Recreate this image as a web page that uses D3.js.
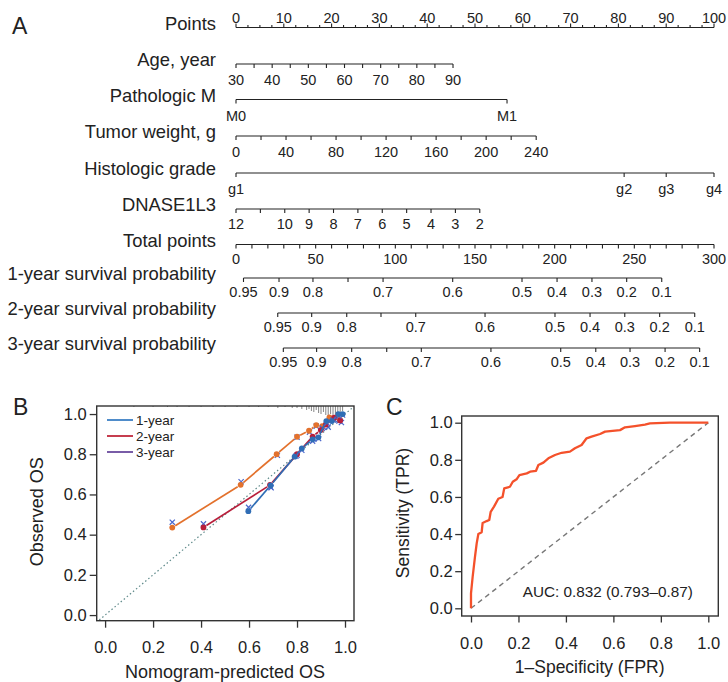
<!DOCTYPE html>
<html>
<head>
<meta charset="utf-8">
<script src="https://cdn.jsdelivr.net/npm/d3@7"></script>
<style>
body { margin: 0; background: #fff; }
text { font-family: 'Liberation Sans', Arial, sans-serif; fill: #222; }
</style>
</head>
<body>
<div id="chart"></div>
<script>
// ---- nomogram (panel A) ----
var pointsLabels = [0, 10, 20, 30, 40, 50, 60, 70, 80, 90, 100];
var ageTicks = [30, 35, 40, 45, 50, 55, 60, 65, 70, 75, 80, 85, 90];
var ageLabels = [30, 40, 50, 60, 70, 80, 90];
var agePointsMax = 45.4;
var mLevels = ['M0', 'M1'];
var mPoints = [0, 56.7];
var weightTicks = [0, 20, 40, 60, 80, 100, 120, 140, 160, 180, 200, 220, 240];
var weightLabels = [0, 40, 80, 120, 160, 200, 240];
var weightPointsMax = 62.8;
var gradeLevels = ['g1', 'g2', 'g3', 'g4'];
var gradePoints = [0, 81.2, 90, 100];
var dnaseTicks = [12, 11, 10, 9, 8, 7, 6, 5, 4, 3, 2];
var dnaseLabels = [12, 10, 9, 8, 7, 6, 5, 4, 3, 2];
var dnasePointsMax = 51.0;
var totalTicks = [0, 10, 20, 30, 40, 50, 60, 70, 80, 90, 100, 110, 120, 130, 140, 150,
                  160, 170, 180, 190, 200, 210, 220, 230, 240, 250, 260, 270, 280, 290, 300];
var totalLabels = [0, 50, 100, 150, 200, 250, 300];
var survLabels = ['0.95', '0.9', '0.8', '', '0.7', '0.6', '0.5', '0.4', '0.3', '0.2', '0.1'];
var surv1Points = [4.7, 27.0, 48.3, 70.3, 92.3, 136.0, 179.5, 201.5, 223.4, 245.2, 267.2];
var surv2Points = [26.2, 47.5, 69.5, 91.0, 112.8, 156.3, 200.2, 222.2, 244.0, 265.9, 287.9];
var surv3Points = [29.7, 50.6, 72.6, 94.6, 116.3, 160.0, 203.8, 225.8, 247.3, 269.3, 291.0];

// ---- calibration (panel B) ----
var cal3yr = [[0.28, 0.435], [0.565, 0.648], [0.715, 0.80], [0.80, 0.887], [0.85, 0.917],
              [0.88, 0.945], [0.905, 0.94], [0.935, 0.983], [0.978, 0.972]];
var cal3yrX = [[0.28, 0.462], [0.567, 0.663], [0.718, 0.795], [0.80, 0.885], [0.852, 0.91],
               [0.88, 0.94], [0.91, 0.935], [0.94, 0.97], [0.975, 0.965]];
var cal2yr = [[0.41, 0.436], [0.6875, 0.647], [0.80, 0.80], [0.865, 0.888], [0.899, 0.92],
              [0.92, 0.948], [0.955, 0.982], [0.98, 0.968]];
var cal2yrX = [[0.41, 0.454], [0.69, 0.637], [0.80, 0.795], [0.87, 0.875], [0.905, 0.93],
               [0.93, 0.935], [0.958, 0.97], [0.985, 0.958]];
var cal1yr = [[0.597, 0.517], [0.69, 0.645], [0.79, 0.788], [0.82, 0.829], [0.865, 0.874],
              [0.889, 0.884], [0.922, 0.965], [0.945, 0.965], [0.972, 1.0], [0.99, 1.0]];
var cal1yrX = [[0.598, 0.536], [0.692, 0.633], [0.795, 0.79], [0.82, 0.82], [0.865, 0.865],
               [0.89, 0.878], [0.925, 0.955], [0.95, 0.97], [0.975, 0.99], [0.99, 0.995]];
var rugValues = [0.12, 0.2, 0.26, 0.3, 0.35, 0.4, 0.45, 0.5, 0.55, 0.6, 0.64, 0.68, 0.72, 0.75,
                 0.78, 0.8, 0.82, 0.84, 0.85, 0.86, 0.87, 0.88, 0.89, 0.9, 0.91, 0.92, 0.93,
                 0.94, 0.95, 0.96, 0.97, 0.98, 0.99];
var rugCounts = [1, 1, 1, 1, 1, 1, 1, 1, 1, 1, 1, 1, 2, 1, 2, 2, 3, 4, 3, 5, 6, 4, 7, 8, 6, 9, 10,
                 8, 12, 9, 11, 8, 5];
var legendNames = ['1-year', '2-year', '3-year'];
var legendColors = ['#3b7fc4', '#c0283c', '#6a4a9e'];

// ---- ROC (panel C) ----
var rocFpr = [0, 0, 0.007, 0.017, 0.024, 0.031, 0.045, 0.049, 0.066, 0.077, 0.083, 0.097, 0.115,
              0.133, 0.140, 0.164, 0.176, 0.192, 0.204, 0.235, 0.249, 0.274, 0.284, 0.305, 0.326,
              0.354, 0.382, 0.417, 0.438, 0.466, 0.487, 0.508, 0.544, 0.565, 0.628, 0.649, 0.691,
              0.733, 0.754, 0.838, 1.0];
var rocTpr = [0, 0.08, 0.17, 0.28, 0.35, 0.40, 0.41, 0.46, 0.47, 0.476, 0.52, 0.548, 0.59,
              0.60, 0.646, 0.655, 0.682, 0.695, 0.718, 0.727, 0.736, 0.741, 0.772, 0.785, 0.808,
              0.826, 0.838, 0.844, 0.862, 0.880, 0.916, 0.925, 0.939, 0.952, 0.960, 0.975, 0.982,
              0.99, 0.996, 1.0, 1.0];
var aucText = 'AUC: 0.832 (0.793\u20130.87)';
var unitTicks = [0, 0.2, 0.4, 0.6, 0.8, 1.0];

var svg = d3.select('#chart').append('svg')
    .attr('width', 728)
    .attr('height', 682);

var ink = '#222';

// ================= Panel A =================
var ptsX = d3.scaleLinear().domain([0, 100]).range([236, 714]);
var totX = d3.scaleLinear().domain([0, 300]).range([236, 714]);

svg.append('text').attr('x', 12).attr('y', 33.5)
   .style('font-size', '23px').text('A');

function rowLabel(y, name) {
    svg.append('text')
       .attr('x', 216).attr('y', y + 2)
       .attr('text-anchor', 'end')
       .style('font-size', '18.4px')
       .text(name);
}

function drawRow(y, name, tickPx, labelPx, labelText, labelOff) {
    rowLabel(y, name);
    var g = svg.append('g');
    g.append('line')
     .attr('x1', d3.min(tickPx)).attr('x2', d3.max(tickPx))
     .attr('y1', y).attr('y2', y)
     .attr('stroke', ink).attr('stroke-width', 1.2);
    g.selectAll('.tk').data(tickPx).enter().append('line')
     .attr('x1', d => d).attr('x2', d => d)
     .attr('y1', y).attr('y2', y + 4)
     .attr('stroke', ink).attr('stroke-width', 1.1);
    g.selectAll('.lb').data(labelPx).enter().append('text')
     .attr('x', d => d).attr('y', y + (labelOff || 21))
     .attr('text-anchor', 'middle')
     .style('font-size', '14.5px')
     .text((d, i) => labelText[i]);
}

// Points axis (labels above, ticks up)
(function() {
    var y = 27.5;
    rowLabel(y, 'Points');
    var g = svg.append('g');
    g.append('line').attr('x1', ptsX(0)).attr('x2', ptsX(100))
     .attr('y1', y).attr('y2', y).attr('stroke', ink).attr('stroke-width', 1.2);
    g.selectAll('.mn').data(d3.range(0, 100.01, 2.5)).enter().append('line')
     .attr('x1', d => ptsX(d)).attr('x2', d => ptsX(d))
     .attr('y1', y).attr('y2', d => y - (d % 10 === 0 ? 4 : 2.5))
     .attr('stroke', ink).attr('stroke-width', 1.1);
    g.selectAll('.lb').data(pointsLabels).enter().append('text')
     .attr('x', d => ptsX(d)).attr('y', y - 5)
     .attr('text-anchor', 'middle').style('font-size', '14.5px')
     .text(d => d);
})();

var ageScale = d3.scaleLinear().domain([30, 90]).range([0, agePointsMax]);
drawRow(64, 'Age, year', ageTicks.map(v => ptsX(ageScale(v))),
        ageLabels.map(v => ptsX(ageScale(v))), ageLabels);

drawRow(99.5, 'Pathologic M', mPoints.map(p => ptsX(p)), mPoints.map(p => ptsX(p)), mLevels);

var wScale = d3.scaleLinear().domain([0, 240]).range([0, weightPointsMax]);
drawRow(136, 'Tumor weight, g', weightTicks.map(v => ptsX(wScale(v))),
        weightLabels.map(v => ptsX(wScale(v))), weightLabels);

drawRow(173, 'Histologic grade', gradePoints.map(p => ptsX(p)),
        gradePoints.map(p => ptsX(p)), gradeLevels);

var dScale = d3.scaleLinear().domain([12, 2]).range([0, dnasePointsMax]);
drawRow(209, 'DNASE1L3', dnaseTicks.map(v => ptsX(dScale(v))),
        dnaseLabels.map(v => ptsX(dScale(v))), dnaseLabels, 19.5);

drawRow(244.5, 'Total points', totalTicks.map(v => totX(v)),
        totalLabels.map(v => totX(v)), totalLabels, 19.5);

drawRow(278, '1-year survival probability', surv1Points.map(v => totX(v)),
        surv1Points.map(v => totX(v)), survLabels, 19);
drawRow(313, '2-year survival probability', surv2Points.map(v => totX(v)),
        surv2Points.map(v => totX(v)), survLabels, 19);
drawRow(348, '3-year survival probability', surv3Points.map(v => totX(v)),
        surv3Points.map(v => totX(v)), survLabels, 19);

// ================= Panel B =================
var xB = d3.scaleLinear().domain([-0.035, 1.0375]).range([96.7, 354]);
var yB = d3.scaleLinear().domain([-0.028, 1.04]).range([620.7, 406]);

svg.append('text').attr('x', 13).attr('y', 415).style('font-size', '23px').text('B');

var gB = svg.append('g');

gB.append('defs').append('clipPath').attr('id', 'clipB')
  .append('rect').attr('x', 96.7).attr('y', 406).attr('width', 257.3).attr('height', 214.7);

// diagonal reference
gB.append('line')
  .attr('clip-path', 'url(#clipB)')
  .attr('x1', xB(-0.05)).attr('y1', yB(-0.05))
  .attr('x2', xB(1.05)).attr('y2', yB(1.05))
  .attr('stroke', '#5f8a8a').attr('stroke-width', 1.2)
  .attr('stroke-dasharray', '1.5,2.5');

// rug at top
var rugH = d3.scaleLinear().domain([0, 12]).range([0, 12]);
gB.selectAll('.rug').data(rugValues).enter().append('line')
  .attr('x1', d => xB(d)).attr('x2', d => xB(d))
  .attr('y1', 406).attr('y2', (d, i) => 406 + rugH(rugCounts[i]))
  .attr('stroke', '#777').attr('stroke-width', 0.9);

function calSeries(pts, xs, color) {
    var p = pts.map(d => [xB(d[0]), yB(d[1])]);
    var gap = 3.5;
    for (var i = 0; i < p.length - 1; i++) {
        var dx = p[i + 1][0] - p[i][0], dy = p[i + 1][1] - p[i][1];
        var len = Math.sqrt(dx * dx + dy * dy);
        if (len <= gap * 2) continue;
        var ux = dx / len, uy = dy / len;
        gB.append('line')
          .attr('x1', p[i][0] + ux * gap).attr('y1', p[i][1] + uy * gap)
          .attr('x2', p[i + 1][0] - ux * gap).attr('y2', p[i + 1][1] - uy * gap)
          .attr('stroke', color).attr('stroke-width', 1.7);
    }
    gB.selectAll(null).data(xs).enter().append('path')
      .attr('d', d => {
          var cx = xB(d[0]), cy = yB(d[1]), s = 2.6;
          return `M${cx - s},${cy - s}L${cx + s},${cy + s}M${cx - s},${cy + s}L${cx + s},${cy - s}`;
      })
      .attr('stroke', '#4a66cc').attr('stroke-width', 1.2).attr('fill', 'none');
    gB.selectAll(null).data(pts).enter().append('circle')
      .attr('cx', d => xB(d[0])).attr('cy', d => yB(d[1]))
      .attr('r', 2.9).attr('fill', color);
}

calSeries(cal3yr, cal3yrX, '#e3712c');
calSeries(cal2yr, cal2yrX, '#b81f3b');
calSeries(cal1yr, cal1yrX, '#2f6db5');

gB.append('rect').attr('x', 96.7).attr('y', 406).attr('width', 257.3).attr('height', 214.7)
  .attr('fill', 'none').attr('stroke', '#333').attr('stroke-width', 1.4);

// legend
legendNames.forEach((name, i) => {
    var ly = 420 + i * 16;
    gB.append('line').attr('x1', 107).attr('x2', 133).attr('y1', ly).attr('y2', ly)
      .attr('stroke', legendColors[i]).attr('stroke-width', 1.8);
    gB.append('text').attr('x', 136).attr('y', ly).attr('dy', '0.35em')
      .style('font-size', '13.5px').text(name);
});

var fmt = d3.format('.1f');

function styleAxis(g, size) {
    g.select('.domain').remove();
    g.selectAll('.tick line').attr('stroke', '#333').attr('stroke-width', 1.3);
    g.selectAll('.tick text').style('font-size', size).style('fill', '#222')
     .style('font-family', "'Liberation Sans', Arial, sans-serif");
}

svg.append('g').attr('transform', 'translate(0,620.7)')
   .call(d3.axisBottom(xB).tickValues(unitTicks).tickFormat(fmt).tickSize(7).tickPadding(14))
   .call(g => styleAxis(g, '16.5px'));
svg.append('g').attr('transform', 'translate(96.7,0)')
   .call(d3.axisLeft(yB).tickValues(unitTicks).tickFormat(fmt).tickSize(7).tickPadding(3))
   .call(g => styleAxis(g, '16.5px'));

svg.append('text').attr('x', xB(0.5)).attr('y', 678).attr('text-anchor', 'middle')
   .style('font-size', '18px').text('Nomogram-predicted OS');
svg.append('text').attr('transform', 'translate(43,511.7) rotate(-90)')
   .attr('text-anchor', 'middle').style('font-size', '18px').text('Observed OS');

// ================= Panel C =================
var xC = d3.scaleLinear().domain([0, 1]).range([471, 708.3]);
var yC = d3.scaleLinear().domain([0, 1]).range([608.3, 422.7]);

svg.append('text').attr('x', 386).attr('y', 415).style('font-size', '23px').text('C');

var gC = svg.append('g');
gC.append('line')
  .attr('x1', xC(0)).attr('y1', yC(0)).attr('x2', xC(1)).attr('y2', yC(1))
  .attr('stroke', '#777').attr('stroke-width', 1.4).attr('stroke-dasharray', '5,4');

gC.append('path')
  .datum(rocFpr.map((f, i) => [f, rocTpr[i]]))
  .attr('fill', 'none')
  .attr('stroke', '#f4512b')
  .attr('stroke-width', 2.3)
  .attr('stroke-linejoin', 'round')
  .attr('d', d3.line().x(d => xC(d[0])).y(d => yC(d[1])));

gC.append('rect').attr('x', 461.7).attr('y', 416).attr('width', 256.6).attr('height', 200)
  .attr('fill', 'none').attr('stroke', '#333').attr('stroke-width', 1.4);

gC.append('text').attr('x', 522.7).attr('y', 597).style('font-size', '15.3px').text(aucText);

svg.append('g').attr('transform', 'translate(0,616)')
   .call(d3.axisBottom(xC).tickValues(unitTicks).tickFormat(fmt).tickSize(6.5).tickPadding(15))
   .call(g => styleAxis(g, '16.5px'));
svg.append('g').attr('transform', 'translate(461.7,0)')
   .call(d3.axisLeft(yC).tickValues(unitTicks).tickFormat(fmt).tickSize(6.5).tickPadding(2.5))
   .call(g => styleAxis(g, '16.5px'));

svg.append('text').attr('x', xC(0.5)).attr('y', 673).attr('text-anchor', 'middle')
   .style('font-size', '17.5px').text('1\u2013Specificity (FPR)');
svg.append('text').attr('transform', 'translate(409,513) rotate(-90)')
   .attr('text-anchor', 'middle').style('font-size', '17.5px').text('Sensitivity (TPR)');
</script>
</body>
</html>
